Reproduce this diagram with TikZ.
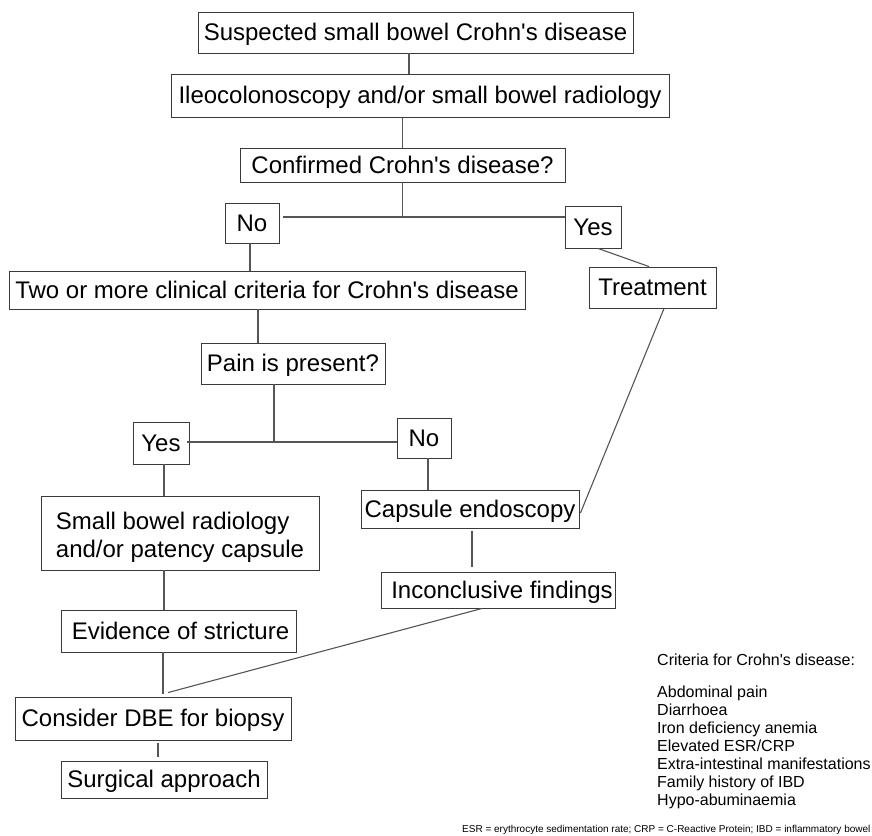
\documentclass[tikz,border=0pt]{standalone}
\usepackage{fontspec}
\newfontfamily\lsans{Liberation Sans}
\usetikzlibrary{calc}
\definecolor{boxline}{HTML}{3A3A3A}
\definecolor{connline}{HTML}{555555}
\begin{document}
\begin{tikzpicture}[x=1pt,y=-1pt,
  box/.style={draw=boxline, line width=0.9pt, inner sep=0pt,
    font=\lsans\fontsize{24}{28}\selectfont, text height=17pt, text depth=1pt},
  tallbox/.style={draw=boxline, line width=0.9pt, inner sep=0pt, align=left,
    font=\lsans\fontsize{24}{28}\selectfont},
  conn/.style={draw=connline, line width=1.1pt},
  crit/.style={inner sep=0pt, font=\lsans\fontsize{16}{18}\selectfont},
  fnote/.style={inner sep=0pt, font=\lsans\fontsize{10}{12}\selectfont}
  ]
\useasboundingbox (0,0) rectangle (872,835);

% boxes
\node[box, minimum width=435pt, minimum height=41pt] (b1) at (415.5,32.5) {Suspected small bowel Crohn's disease};
\node[box, minimum width=498pt, minimum height=43pt] (b2) at (420,95.5) {Ileocolonoscopy and/or small bowel radiology};
\node[box, minimum width=325pt, minimum height=34pt] (b3) at (402.5,165) {Confirmed Crohn's disease?};
\node[box, minimum width=54pt, minimum height=40pt] (no1) at (252,223) {No};
\node[box, minimum width=56pt, minimum height=42pt] (yes1) at (593,227) {Yes};
\node[box, minimum width=516pt, minimum height=38pt] (two) at (267,290) {Two or more clinical criteria for Crohn's disease};
\node[box, minimum width=127pt, minimum height=41pt] (treat) at (652.5,287.5) {Treatment};
\node[box, minimum width=184pt, minimum height=41pt] (pain) at (293,363.5) {Pain is present?};
\node[box, minimum width=56pt, minimum height=42pt] (yes2) at (161,443) {Yes};
\node[box, minimum width=54pt, minimum height=40pt] (no2) at (424,438) {No};
\node[tallbox, minimum width=278pt, minimum height=74pt] (sbr) at (180,533) {\rule{0pt}{25pt}Small bowel radiology\\and/or patency capsule};
\node[box, minimum width=218pt, minimum height=38pt] (caps) at (470,509) {Capsule endoscopy};
\node[box, minimum width=234pt, minimum height=36pt] (inc) at (498,590) {\hspace*{8pt}Inconclusive findings};
\node[box, minimum width=235pt, minimum height=42pt] (evid) at (178.5,631) {\hspace*{4pt}Evidence of stricture};
\node[box, minimum width=276pt, minimum height=43pt] (cons) at (153,718.5) {Consider DBE for biopsy};
\node[box, minimum width=206pt, minimum height=37pt] (surg) at (164,779.5) {Surgical approach};

% connectors
\draw[conn] ($(b1.south)+(-6.5,0)$) -- ($(b1.south |- b2.north)+(-6.5,0)$);
\draw[conn] (b3.north) -- (b3.north |- b2.south);
\coordinate (j1) at (402.5,217);
\draw[conn] (b3.south) -- (j1);
\draw[conn] ($(no1.east |- j1)+(4,0)$) -- (yes1.west |- j1);
\draw[conn] ($(no1.south)+(-2,0)$) -- ($(no1.south |- two.north)+(-2,0)$);
\draw[conn] ($(two.south)+(-9,0)$) -- ($(two.south |- pain.north)+(-9,0)$);
\coordinate (j2) at (274,442);
\draw[conn] ($(pain.south)+(-19,0)$) -- (j2);
\draw[conn] ($(yes2.east |- j2)+(-2,0)$) -- (no2.west |- j2);
\draw[conn] ($(yes2.south)+(3,0)$) -- ($(yes2.south |- sbr.north)+(3,0)$);
\draw[conn] ($(no2.south)+(4,0)$) -- ($(no2.south |- caps.north)+(4,0)$);
\draw[conn] ($(yes1.south)+(5,0)$) -- ($(treat.north)+(-3.5,0)$);
\draw[conn] ($(treat.south)+(11.5,0)$) -- ($(caps.east)+(1,4)$);
\draw[conn] ($(caps.south)+(2,3)$) -- ($(caps.south |- inc.north)+(2,-5)$);
\draw[conn] ($(sbr.south)+(-16,0)$) -- ($(sbr.south |- evid.north)+(-16,0)$);
\draw[conn] ($(evid.south)+(-15.5,0)$) -- ($(evid.south |- cons.north)+(-15.5,-3)$);
\draw[conn] ($(inc.south)+(-16,0)$) -- ($(cons.north)+(15,-4)$);
\draw[conn] ($(cons.south)+(5,3)$) -- ($(cons.south |- surg.north)+(5,-4)$);

% criteria legend
\node[crit, anchor=base west] (crittitle) at (657,665.7) {Criteria for Crohn's disease:};
\foreach \t [count=\i] in {Abdominal pain, Diarrhoea, Iron deficiency anemia, Elevated ESR/CRP, Extra-intestinal manifestations, Family history of IBD, Hypo-abuminaemia}
  \node[crit, anchor=base west] (c\i) at (657,679+18*\i) {\t};

% footnote
\node[fnote, anchor=base west] (fn) at (462,832.5) {ESR = erythrocyte sedimentation rate; CRP = C-Reactive Protein; IBD = inflammatory bowel};
\end{tikzpicture}
\end{document}
